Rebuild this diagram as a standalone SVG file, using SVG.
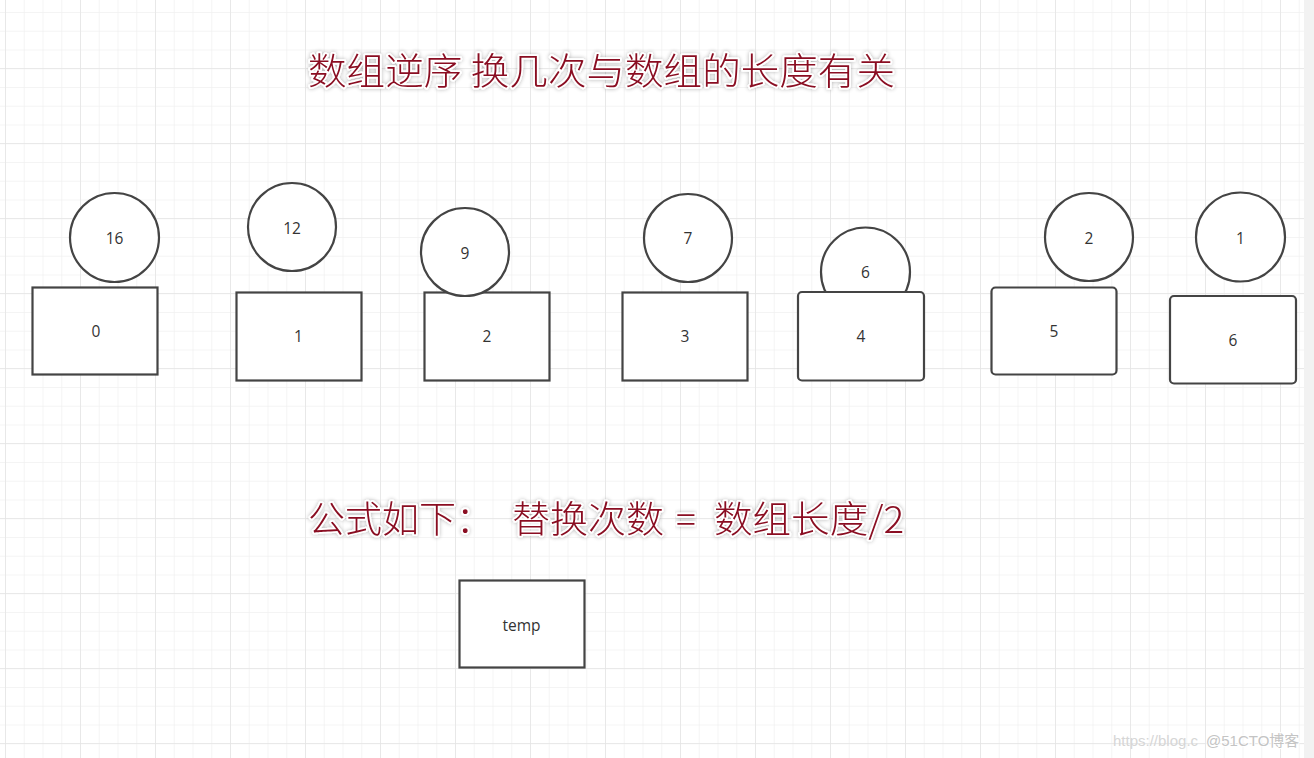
<svg xmlns="http://www.w3.org/2000/svg" width="1314" height="758" viewBox="0 0 1314 758">
<defs>
<pattern id="minor" x="5" y="12" width="18.75" height="18.75" patternUnits="userSpaceOnUse">
<path d="M0 0V18.75M0 0H18.75" fill="none" stroke="#f1f1f1" stroke-width="1.5"/>
</pattern>
<pattern id="major" x="5" y="68" width="75" height="75" patternUnits="userSpaceOnUse">
<path d="M0 0V75M0 0H75" fill="none" stroke="#e5e5e5" stroke-width="1.5"/>
</pattern>
<filter id="glow" x="-5%" y="-30%" width="110%" height="160%">
<feGaussianBlur in="SourceAlpha" stdDeviation="2"/>
<feComponentTransfer><feFuncA type="linear" slope="0.3"/></feComponentTransfer>
<feMerge><feMergeNode/><feMergeNode in="SourceGraphic"/></feMerge>
</filter>
</defs>
<style>
.sh{fill:#fff;stroke:#444;stroke-width:2.2}
.lb{font-family:"Open Sans","Noto Sans","Noto Sans CJK SC",sans-serif;font-size:15.5px;fill:#333;text-anchor:middle;dominant-baseline:central}
.tt{font-family:"Noto Sans CJK SC","Noto Sans CJK JP",sans-serif;font-size:37px;font-weight:300;fill:#8a0f22;stroke:#fff;stroke-width:3.5;paint-order:stroke;stroke-linejoin:round;filter:url(#glow)}
.wm{font-family:"Liberation Sans","Noto Sans CJK SC",sans-serif;font-size:15px}
</style>
<rect width="1314" height="758" fill="#fff"/>
<rect width="1314" height="758" fill="url(#minor)"/>
<rect width="1314" height="758" fill="url(#major)"/>
<rect x="1304" y="0" width="10" height="758" fill="#f2f2f2"/>

<g id="title"><text class="tt" x="308" y="85" textLength="587" lengthAdjust="spacingAndGlyphs">数组逆序 换几次与数组的长度有关</text></g>

<g id="n16"><circle class="sh" cx="114.5" cy="237.5" r="44.5"/><text class="lb" x="114.5" y="238">16</text></g>
<g id="b0"><rect class="sh" x="32.5" y="287.5" width="125" height="87"/><text class="lb" x="96" y="331">0</text></g>

<g id="n12"><circle class="sh" cx="292" cy="227" r="44"/><text class="lb" x="292" y="228">12</text></g>
<g id="b1"><rect class="sh" x="236.5" y="292.5" width="125" height="88"/><text class="lb" x="298.5" y="336">1</text></g>

<g id="b2"><rect class="sh" x="424.5" y="292.5" width="125" height="88"/><text class="lb" x="487" y="336">2</text></g>
<g id="n9"><circle class="sh" cx="465" cy="252" r="44"/><text class="lb" x="465" y="253">9</text></g>

<g id="n7"><circle class="sh" cx="688" cy="238" r="44"/><text class="lb" x="688" y="238">7</text></g>
<g id="b3"><rect class="sh" x="622.5" y="292.5" width="125" height="88"/><text class="lb" x="685" y="336">3</text></g>

<g id="n6"><circle class="sh" cx="865.5" cy="272" r="44.5"/><text class="lb" x="865.5" y="272">6</text></g>
<g id="b4"><rect class="sh" x="798" y="292" width="126" height="88.5" rx="4"/><text class="lb" x="861" y="336">4</text></g>

<g id="n2"><circle class="sh" cx="1089" cy="237" r="44"/><text class="lb" x="1089" y="238">2</text></g>
<g id="b5"><rect class="sh" x="991.5" y="287.5" width="125" height="87" rx="4"/><text class="lb" x="1054" y="331">5</text></g>

<g id="n1"><circle class="sh" cx="1240.5" cy="237" r="44.5"/><text class="lb" x="1240.5" y="238">1</text></g>
<g id="b6"><rect class="sh" x="1170" y="296" width="126" height="87.5" rx="4"/><text class="lb" x="1233" y="340">6</text></g>

<g id="formula">
<text class="tt" x="308" y="533">公式如下：</text>
<text class="tt" x="512" y="533" textLength="152" lengthAdjust="spacingAndGlyphs">替换次数</text>
<text class="tt" x="676" y="533">=</text>
<text class="tt" x="714" y="533" textLength="190" lengthAdjust="spacingAndGlyphs">数组长度/2</text>
</g>

<g id="temp"><rect class="sh" x="459.5" y="580.5" width="125" height="87"/><text class="lb" x="521.5" y="625">temp</text></g>

<g id="connectors"></g>

<g id="watermark">
<text class="wm" x="1113" y="746" fill="#d6d6d6">https://blog.c</text>
<text class="wm" x="1206" y="746" fill="#c4c4c4" stroke="#fff" stroke-width="2" paint-order="stroke">@51CTO博客</text>
</g>
</svg>
